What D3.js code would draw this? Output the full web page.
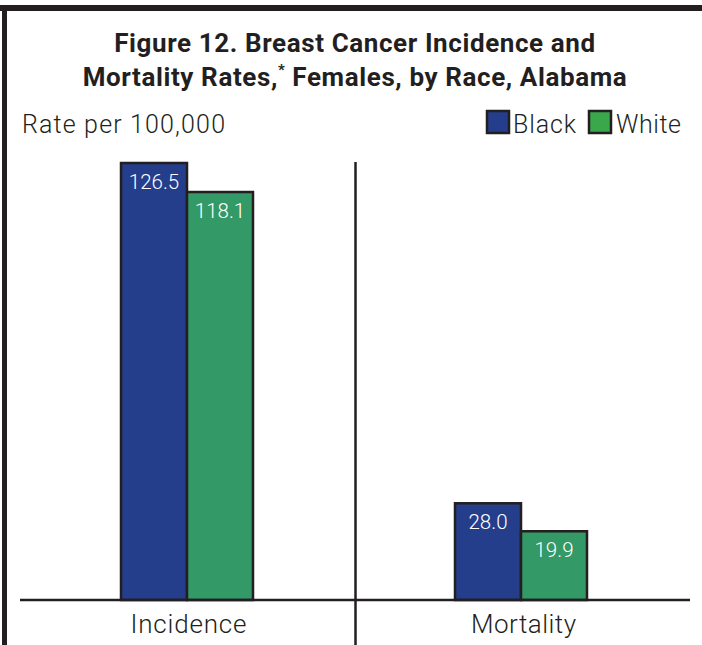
<!DOCTYPE html>
<html lang="en">
<head>
<meta charset="utf-8">
<title>Figure 12</title>
<script src="https://cdnjs.cloudflare.com/ajax/libs/d3/7.8.5/d3.min.js"></script>
<style>
  body { margin: 0; background: #fff; }
  text { font-family: "Roboto", "Open Sans", sans-serif; fill: #231f20; font-weight: 300; }
</style>
</head>
<body>
<svg id="chart" width="702" height="645"></svg>
<script>
const categories = ["Incidence", "Mortality"];
const races = ["Black", "White"];
const black = [126.5, 28.0];
const white = [118.1, 19.9];
const valueLabels = [["126.5", "118.1"], ["28.0", "19.9"]];

const barColor = { Black: "#243e8c", White: "#339966" };
const legendColor = { Black: "#243e8c", White: "#3aa84a" };
const ink = "#231f20";

const svg = d3.select("#chart");

// frame
svg.append("rect").attr("x", 0).attr("y", 5).attr("width", 702).attr("height", 6).attr("fill", ink);
svg.append("rect").attr("x", 2).attr("y", 5).attr("width", 5).attr("height", 640).attr("fill", ink);

// title
const title = svg.append("text")
  .attr("text-anchor", "middle")
  .attr("font-size", 26)
  .style("font-weight", 700)
  .attr("letter-spacing", 0.6);
title.append("tspan").attr("x", 355).attr("y", 52).text("Figure 12. Breast Cancer Incidence and");
const t2 = title.append("tspan").attr("x", 355).attr("y", 86);
t2.append("tspan").text("Mortality Rates,");
t2.append("tspan").attr("font-size", 15).attr("dy", -11).text("*");
t2.append("tspan").attr("dy", 11).text(" Females, by Race, Alabama");

svg.append("text").attr("x", 22).attr("y", 133).attr("font-size", 25)
  .attr("textLength", 203).attr("lengthAdjust", "spacing")
  .text("Rate per 100,000");

// legend
const legend = svg.append("g");
[["Black", 487, 513, 63], ["White", 589, 616, 65]].forEach(([r, sx, tx, tw]) => {
  legend.append("rect").attr("x", sx).attr("y", 111).attr("width", 22).attr("height", 22)
    .attr("fill", legendColor[r]).attr("stroke", ink).attr("stroke-width", 2.5);
  legend.append("text").attr("x", tx).attr("y", 133).attr("font-size", 25)
    .attr("textLength", tw).attr("lengthAdjust", "spacing").text(r);
});

// scales
const baseY = 600;
const y = d3.scaleLinear().domain([0, 126.5]).range([baseY, 163]);
const x0 = d3.scaleBand().domain(categories).range([20, 690]);
const x1 = d3.scaleBand().domain(races).range([0, 132]);
const groupOffset = { Incidence: 101, Mortality: 100 };

const rows = categories.map((c, i) => ({ cat: c, vals: [black[i], white[i]], labels: valueLabels[i] }));

const g = svg.append("g");
rows.forEach(row => {
  races.forEach((r, j) => {
    const bx = x0(row.cat) + groupOffset[row.cat] + x1(r);
    const v = row.vals[j];
    g.append("rect")
      .attr("x", bx).attr("y", y(v))
      .attr("width", x1.bandwidth()).attr("height", baseY - y(v))
      .attr("fill", barColor[r]).attr("stroke", ink).attr("stroke-width", 2.5);
    g.append("text")
      .attr("x", bx + x1.bandwidth() / 2).attr("y", y(v) + 26)
      .attr("text-anchor", "middle").attr("font-size", 20.5)
      .style("fill", "#fff")
      .text(row.labels[j]);
  });
});

// divider and baseline
svg.append("line").attr("x1", 355.5).attr("x2", 355.5).attr("y1", 162).attr("y2", 645)
  .attr("stroke", ink).attr("stroke-width", 2.5);
svg.append("line").attr("x1", 20).attr("x2", 690).attr("y1", baseY).attr("y2", baseY)
  .attr("stroke", ink).attr("stroke-width", 2.5);

// category labels
const catWidth = { Incidence: 116, Mortality: 105 };
categories.forEach(c => {
  svg.append("text").attr("x", x0(c) + x0.bandwidth() / 2 - catWidth[c] / 2 + 1).attr("y", 633)
    .attr("font-size", 26)
    .attr("textLength", catWidth[c]).attr("lengthAdjust", "spacing").text(c);
});
</script>
</body>
</html>
